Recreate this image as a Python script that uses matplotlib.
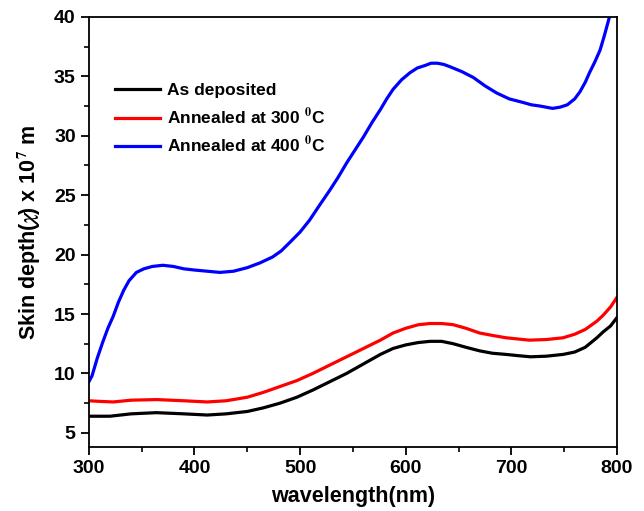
import matplotlib.pyplot as plt
from matplotlib.ticker import MultipleLocator

# 读图估计的数据
wl_as = [300, 310, 320, 340, 364, 390, 412, 430, 450, 465, 481, 497, 512, 528, 544,
         560, 576, 588, 600, 612, 623, 634, 645, 657, 670, 682, 695, 706, 718, 733,
         749, 760, 770, 781, 787, 794, 800]
sd_as = [6.4, 6.4, 6.4, 6.6, 6.7, 6.6, 6.5, 6.6, 6.8, 7.1, 7.5, 8.0, 8.6, 9.3, 10.0,
         10.8, 11.6, 12.1, 12.4, 12.6, 12.7, 12.7, 12.5, 12.2, 11.9, 11.7, 11.6, 11.5,
         11.4, 11.45, 11.6, 11.8, 12.2, 13.0, 13.5, 14.0, 14.7]

wl_300 = [300, 310, 323, 340, 364, 390, 412, 430, 450, 465, 481, 497, 512, 528, 544,
          560, 576, 588, 600, 612, 623, 634, 645, 657, 670, 682, 695, 706, 717, 733,
          749, 760, 770, 781, 787, 794, 800]
sd_300 = [7.7, 7.65, 7.6, 7.75, 7.8, 7.7, 7.6, 7.7, 8.0, 8.4, 8.9, 9.4, 10.0, 10.7,
          11.4, 12.1, 12.8, 13.4, 13.8, 14.1, 14.2, 14.2, 14.1, 13.8, 13.4, 13.2, 13.0,
          12.9, 12.8, 12.85, 13.0, 13.3, 13.7, 14.4, 14.9, 15.6, 16.4]

wl_400 = [300, 303, 308, 313, 318, 323, 328, 333, 338, 345, 352, 360, 370, 380, 390,
          400, 412, 424, 437, 450, 462, 474, 482, 490, 500, 509, 518, 528, 536, 544,
          552, 560, 568, 576, 582, 588, 596, 604, 611, 618, 624, 630, 636, 642, 653,
          664, 675, 686, 698, 711, 719, 727, 733, 739, 746, 753, 760, 765, 770, 774,
          779, 784, 788, 792, 796]
sd_400 = [9.3, 9.8, 11.3, 12.6, 13.8, 14.8, 16.0, 17.0, 17.8, 18.5, 18.8, 19.0, 19.1,
          19.0, 18.8, 18.7, 18.6, 18.5, 18.6, 18.9, 19.3, 19.8, 20.3, 21.0, 21.9, 22.9,
          24.1, 25.4, 26.5, 27.7, 28.8, 29.9, 31.1, 32.2, 33.1, 33.9, 34.7, 35.3, 35.7,
          35.9, 36.1, 36.1, 36.0, 35.8, 35.4, 34.9, 34.2, 33.6, 33.1, 32.8, 32.6, 32.5,
          32.4, 32.3, 32.4, 32.6, 33.1, 33.7, 34.5, 35.3, 36.2, 37.2, 38.4, 39.7, 41.0]

plt.rcParams['font.family'] = ['Liberation Sans', 'DejaVu Sans']
plt.rcParams['font.weight'] = 'bold'
plt.rcParams['mathtext.fontset'] = 'stix'

fig = plt.figure(figsize=(6.44, 5.11), dpi=100)
ax = fig.add_axes([0.138, 0.125, 0.82, 0.842])

ax.plot(wl_as, sd_as, color='black', lw=2.3, label='As deposited')
ax.plot(wl_300, sd_300, color='#ff0000', lw=2.3, label='Annealed at 300 $^0$C')
ax.plot(wl_400, sd_400, color='#0000ff', lw=2.3, label='Annealed at 400 $^0$C')

ax.set_xlim(300, 800)
ax.set_ylim(3.8, 40)
ax.xaxis.set_major_locator(MultipleLocator(100))
ax.xaxis.set_minor_locator(MultipleLocator(50))
ax.yaxis.set_major_locator(MultipleLocator(5))
ax.yaxis.set_minor_locator(MultipleLocator(2.5))
ax.tick_params(which='major', direction='out', length=6, width=1.3, labelsize=14)
ax.tick_params(which='minor', direction='out', length=3.5, width=1.2)
for s in ax.spines.values():
    s.set_linewidth(1.3)

ax.set_xlabel('wavelength(nm)', fontsize=15.5, fontweight='bold', labelpad=6)
ax.set_ylabel(r'Skin depth($\chi$) x 10$^7$ m', fontsize=15.5, fontweight='bold', labelpad=8)

ax.legend(loc='upper left', bbox_to_anchor=(0.02, 0.882), frameon=False,
          fontsize=12.5, handlelength=2.6, handletextpad=0.4, labelspacing=0.45)

fig.savefig('out.png', dpi=100)
